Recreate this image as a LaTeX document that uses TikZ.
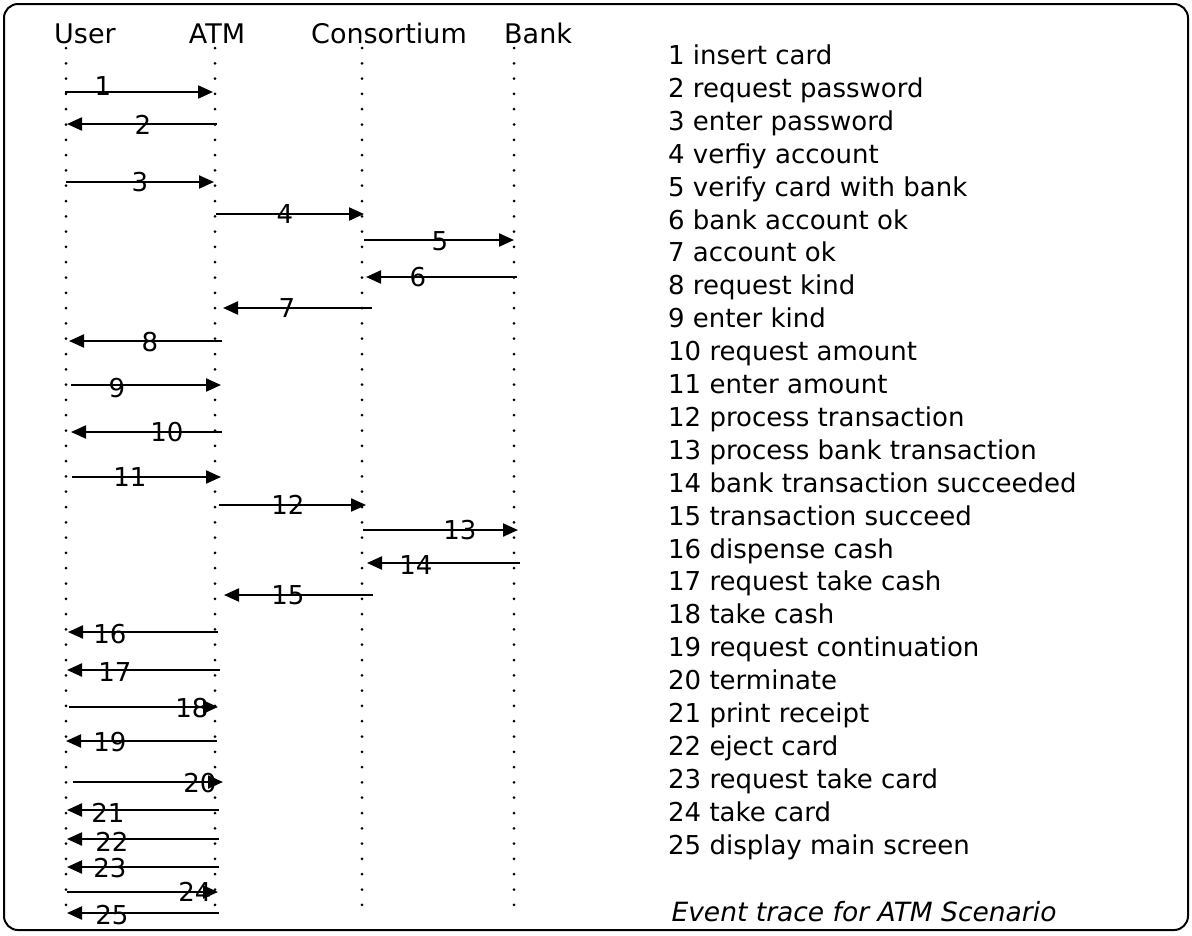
\documentclass[tikz,border=0pt]{standalone}
\usepackage{fontspec}
\setmainfont{DejaVu Sans}
\usetikzlibrary{arrows.meta}
\begin{document}
\begin{tikzpicture}[x=1pt,y=-1pt,
  frame/.style={line width=2pt, rounded corners=14pt},
  life/.style={line width=3pt, dash pattern=on 0pt off 15.3pt, line cap=round},
  msg/.style={line width=2.2pt, -{Triangle[length=15pt,width=13pt]}},
  num/.style={font=\fontsize{26}{26}\selectfont, inner sep=0pt, text height=19pt, text depth=0pt},
  head/.style={font=\fontsize{27}{27}\selectfont, inner sep=0pt, text height=19.7pt, text depth=0pt},
  item/.style={font=\fontsize{26}{26}\selectfont, inner sep=0pt, anchor=west, text height=19pt, text depth=0pt},
  capt/.style={font=\fontsize{26.5}{26.5}\selectfont\itshape, inner sep=0pt, text height=19.3pt, text depth=0pt}]
\useasboundingbox (0,0) rectangle (1192,935);
\draw[frame] (4,4) rectangle (1188,930);
% headers
\node[head, anchor=west] (huser) at (54,34) {User};
\node[head] (hatm) at (217,34) {ATM};
\node[head] (hcons) at (389,34) {Consortium};
\node[head, anchor=west] (hbank) at (504,34) {Bank};
% lifelines
\coordinate (uT) at (66,48);  \coordinate (uB) at (66,916);
\coordinate (aT) at (215,48); \coordinate (aB) at (215,916);
\coordinate (cT) at (362,48); \coordinate (cB) at (362,916);
\coordinate (bT) at (514,48); \coordinate (bB) at (514,916);
\draw[life] (uT) -- (uB);
\draw[life] (aT) -- (aB);
\draw[life] (cT) -- (cB);
\draw[life] (bT) -- (bB);
% messages: index / y / tail x / head x / label x / label dy
\foreach \i/\y/\xs/\xe/\lx/\dy in {
  1/92/65/213/103/-6,
  2/124/217/67/143/1,
  3/182/66/214/140/0,
  4/214/216/364/285/0,
  5/240/364/514/440/1,
  6/277/517/366/418/0,
  7/308/372/223/287/0,
  8/341/222/69/150/1,
  9/385/71/221/117/3,
  10/432/222/71/167/0,
  11/477/72/221/130/0,
  12/505/219/366/288/0,
  13/530/363/518/460/0,
  14/563/520/367/416/2,
  15/595/373/224/288/0,
  16/632/218/68/110/2,
  17/670/220/67/115/2,
  18/707/69/218/192/1,
  19/741/217/66/110/1,
  20/782/73/223/200/1,
  21/810/219/67/108/3,
  22/839/219/67/112/3,
  23/867/219/67/110/1,
  24/892/67/218/195/0,
  25/913/219/67/112/2}{
  \coordinate (m\i s) at (\xs,\y);
  \coordinate (m\i e) at (\xe,\y);
  \draw[msg] (m\i s) -- (m\i e);
  \node[num] (n\i) at (\lx,\y+\dy) {\i};
}
% event list
\foreach \i/\t in {1/insert card, 2/request password, 3/enter password,
  4/verfiy account, 5/verify card with bank, 6/bank account ok,
  7/account ok, 8/request kind, 9/enter kind, 10/request amount,
  11/enter amount, 12/process transaction, 13/process bank transaction,
  14/bank transaction succeeded, 15/transaction succeed, 16/dispense cash,
  17/request take cash, 18/take cash, 19/request continuation,
  20/terminate, 21/print receipt, 22/eject card, 23/request take card,
  24/take card, 25/display main screen}{
  \node[item] (l\i) at (668,{55+(\i-1)*32.9}) {\i\ \t};
}
\node[capt] (caption) at (864,912) {Event trace for ATM Scenario};
\end{tikzpicture}
\end{document}
